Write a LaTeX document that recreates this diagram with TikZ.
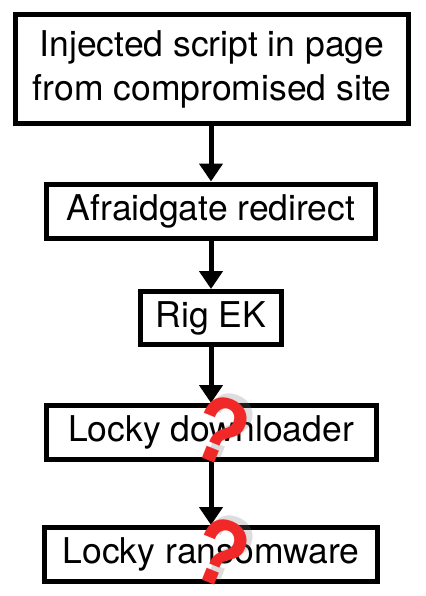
\documentclass[tikz,border=0pt]{standalone}
\usepackage{fontspec}
\setmainfont{TeX Gyre Heros}
\usetikzlibrary{arrows.meta}
\definecolor{qmarkRed}{RGB}{240,40,40}
\definecolor{qmarkShade}{RGB}{120,120,120}

\begin{document}
\begin{tikzpicture}[x=1pt, y=-1pt,
  flowbox/.style={draw, line width=5pt, fill=white, align=center, inner sep=0pt,
    font=\fontsize{35.5}{44}\selectfont},
  flowarrow/.style={line width=5pt, -{Triangle[width=23pt, length=18pt]}},
  qmark/.style={text=qmarkRed, rotate=-22, font=\fontsize{88}{88}\selectfont\bfseries}]
\useasboundingbox (0,0) rectangle (425,596);
%
\node[flowbox, minimum width=393pt, minimum height=109pt] (inject) at (212,69)
  {Injected script in page\\from compromised site};
\node[flowbox, minimum width=329pt, minimum height=54pt] (afraid) at (211,211) {Afraidgate redirect};
\node[flowbox, minimum width=141pt, minimum height=53pt] (rigek) at (211,318) {Rig EK};
\node[flowbox, minimum width=330pt, minimum height=54pt] (lockydl) at (211,432.5) {Locky downloader};
\node[flowbox, minimum width=333pt, minimum height=54pt] (lockyrw) at (211,554.5) {Locky ransomware};

%
\draw[flowarrow] (inject.south -| afraid) -- (afraid.north);
\draw[flowarrow] (afraid) -- (rigek);
\draw[flowarrow] (rigek) -- (lockydl);
\draw[flowarrow] (lockydl) -- (lockyrw);

%
\foreach \qy/\qn in {430/dl, 552/rw} {
  \node[qmark, text=qmarkShade, opacity=0.25] at (227,\qy-4) {?};
  \node[qmark] (q\qn) at (221,\qy) {?};
}
\end{tikzpicture}
\end{document}
